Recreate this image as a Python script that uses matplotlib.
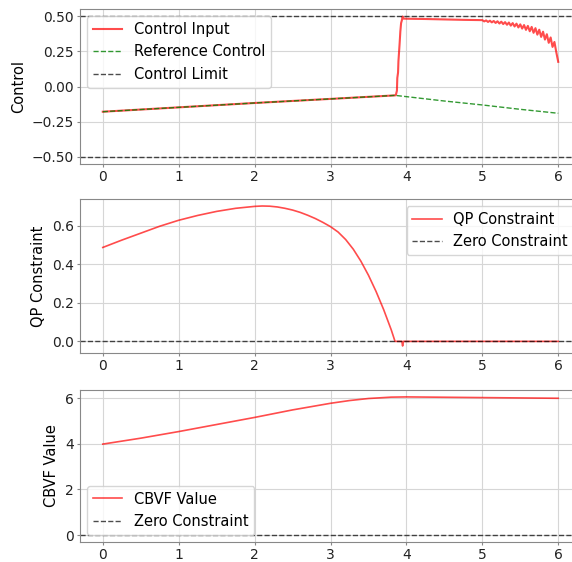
import numpy as np
import matplotlib
matplotlib.use("Agg")
import matplotlib.pyplot as plt

# control input (follows reference until ~3.85, then jumps and chatters)
t_ctrl = [0.0, 1.0, 2.0, 3.0, 3.85, 3.86, 3.875, 3.88, 3.89, 3.895, 3.91, 3.92,
          3.93, 3.94, 3.95, 3.96, 4.0, 4.25, 4.5, 4.75,
          5.0, 5.025, 5.05, 5.075, 5.1, 5.125, 5.15, 5.175, 5.2, 5.225,
          5.25, 5.275, 5.3, 5.325, 5.35, 5.375, 5.4, 5.425, 5.45, 5.475,
          5.5, 5.525, 5.55, 5.575, 5.6, 5.625, 5.65, 5.675, 5.7, 5.725,
          5.75, 5.775, 5.8, 5.825, 5.85, 5.875, 5.9, 5.925, 5.95, 5.975, 6.0]
u_ctrl = [-0.179, -0.148, -0.117, -0.088, -0.063, -0.062, -0.03, 0.06, 0.10, 0.18, 0.30, 0.39,
          0.45, 0.47, 0.497, 0.482, 0.481, 0.479, 0.476, 0.473,
          0.471, 0.462, 0.469, 0.458, 0.467, 0.455, 0.465, 0.451, 0.463, 0.447,
          0.460, 0.443, 0.457, 0.438, 0.454, 0.432, 0.450, 0.426, 0.446, 0.419,
          0.441, 0.411, 0.436, 0.402, 0.430, 0.392, 0.423, 0.381, 0.414, 0.368,
          0.403, 0.352, 0.389, 0.333, 0.371, 0.310, 0.348, 0.281, 0.316, 0.242, 0.175]

# reference control
t_ref = [0.0, 1.0, 2.0, 3.0, 3.85, 4.0, 4.5, 5.0, 5.5, 6.0]
u_ref = [-0.179, -0.148, -0.117, -0.088, -0.063, -0.072, -0.103, -0.131, -0.162, -0.19]

u_limit = 0.5

# QP constraint
t_qp = [0.0, 0.25, 0.5, 0.75, 1.0, 1.25, 1.5, 1.75, 2.0, 2.1, 2.2, 2.3, 2.4, 2.5,
        2.6, 2.7, 2.8, 2.9, 3.0, 3.1, 3.2, 3.3, 3.4, 3.5, 3.6, 3.7, 3.8, 3.85,
        3.94, 3.95, 3.96, 4.0, 5.0, 6.0]
qp = [0.487, 0.525, 0.561, 0.597, 0.628, 0.653, 0.674, 0.690, 0.700, 0.702, 0.701, 0.697,
      0.690, 0.681, 0.669, 0.654, 0.637, 0.617, 0.595, 0.567, 0.528, 0.478, 0.416, 0.343,
      0.259, 0.165, 0.060, 0.0, 0.0, -0.024, 0.0, 0.0, 0.0, 0.0]

# CBVF value
t_cbvf = [0.0, 0.5, 1.0, 1.5, 2.0, 2.5, 3.0, 3.25, 3.5, 3.8, 4.0, 5.0, 6.0]
cbvf = [3.99, 4.25, 4.54, 4.85, 5.16, 5.49, 5.78, 5.90, 5.99, 6.05, 6.06, 6.03, 6.0]

plt.rcParams['font.size'] = 10.5
plt.rcParams['xtick.labelsize'] = 10
plt.rcParams['ytick.labelsize'] = 10

fig = plt.figure(figsize=(5.72, 5.62), dpi=100)
left, width = 80 / 572, 501 / 572
ax1 = fig.add_axes([left, 398 / 562, width, 155 / 562])
ax2 = fig.add_axes([left, 209 / 562, width, 154 / 562])
ax3 = fig.add_axes([left, 20 / 562, width, 152 / 562])

ax1.plot(t_ctrl, u_ctrl, 'r-', alpha=0.7, lw=1.5, label='Control Input')
ax1.plot(t_ref, u_ref, 'g--', alpha=0.8, lw=1, label='Reference Control')
ax1.axhline(u_limit, color='k', ls='--', alpha=0.7, lw=1, label='Control Limit')
ax1.axhline(-u_limit, color='k', ls='--', alpha=0.7, lw=1)
ax1.set_ylabel('Control')
ax1.legend(loc='upper left')

ax2.plot(t_qp, qp, 'r-', alpha=0.7, lw=1.2, label='QP Constraint')
ax2.axhline(0, color='k', ls='--', lw=1, alpha=0.7, label='Zero Constraint')
ax2.set_ylabel('QP Constraint')
ax2.legend(loc='upper right')

ax3.plot(t_cbvf, cbvf, 'r-', alpha=0.7, lw=1.2, label='CBVF Value')
ax3.axhline(0, color='k', ls='--', lw=1, alpha=0.7, label='Zero Constraint')
ax3.set_ylabel('CBVF Value')
ax3.legend(loc='lower left')

for ax in (ax1, ax2, ax3):
    ax.grid(True, color='#d6d6d6', lw=0.8)
    for s in ax.spines.values():
        s.set_color('#888888')
    ax.tick_params(colors='#888888', labelcolor='#222222', length=2.5, pad=2)

fig.savefig("out.png")
